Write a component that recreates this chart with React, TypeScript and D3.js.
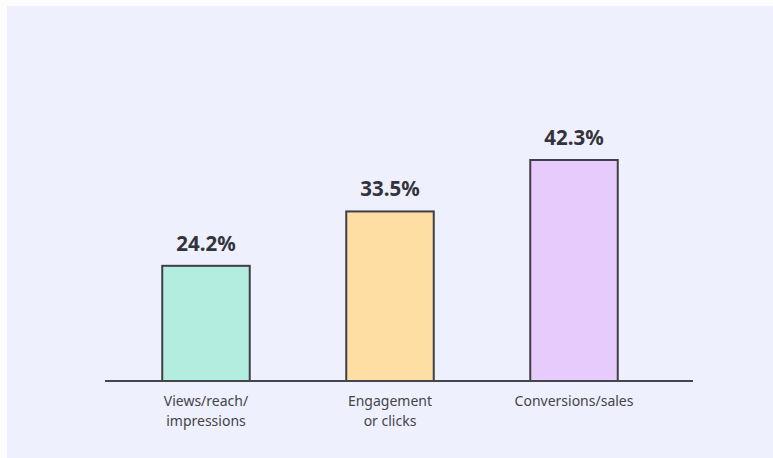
import React from "react";
import * as d3 from "d3";

const categories: string[][] = [["Views/reach/", "impressions"], ["Engagement", "or clicks"], ["Conversions/sales"]];
const values: number[] = [24.2, 33.5, 42.3];
const colors: string[] = ["#b2eddf", "#ffdea4", "#e7cbfc"];

const W = 773;
const H = 458;
const baseY = 381;
const topY = 160;

export default function App() {
  const keys = categories.map((c) => c.join(" "));
  const x = d3.scaleBand<string>().domain(keys).range([96, 684]).paddingInner(0.5245).paddingOuter(0.36);
  const y = d3.scaleLinear().domain([4.5, 42.3]).range([baseY, topY]);
  const bw = x.bandwidth();
  return (
    <div style={{ position: "absolute", left: 0, top: 0 }}>
      <svg width={W} height={H} style={{ display: "block" }}>
        <rect x={0} y={0} width={W} height={H} fill="#fdfdfe" />
        <rect x={7} y={6} width={W - 7} height={H - 6} fill="#eff0fd" />
        {values.map((v, i) => (
          <g key={keys[i]}>
            <rect
              x={x(keys[i])!}
              y={y(v)}
              width={bw}
              height={baseY - y(v)}
              fill={colors[i]}
              stroke="#3f3f48"
              strokeWidth={2}
            />
            <text
              x={x(keys[i])! + bw / 2}
              y={y(v) - 15}
              textAnchor="middle"
              fontFamily="'Noto Sans', sans-serif"
              fontWeight={700}
              fontSize={20.5}
              fill="#33333b"
            >
              {v.toFixed(1)}%
            </text>
            <text
              x={x(keys[i])! + bw / 2}
              y={406}
              textAnchor="middle"
              fontFamily="'Noto Sans', sans-serif"
              fontSize={14}
              fill="#444449"
            >
              {categories[i].map((line, j) => (
                <tspan key={j} x={x(keys[i])! + bw / 2} dy={j === 0 ? 0 : 20}>
                  {line}
                </tspan>
              ))}
            </text>
          </g>
        ))}
        <line x1={105} x2={693} y1={baseY} y2={baseY} stroke="#45454d" strokeWidth={2} />
      </svg>
    </div>
  );
}
